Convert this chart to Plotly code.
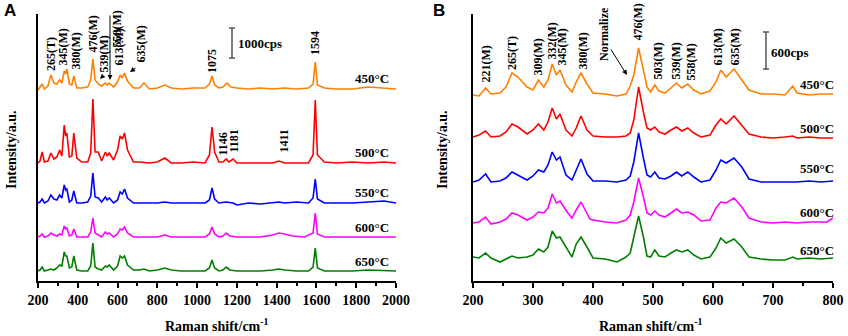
import plotly.graph_objects as go

# ---------------- Data ----------------
# Panel A: Raman shift (cm-1), stacked intensity (display units)
A_450 = [(200,190),(210,193),(221,196),(232,191),(250,194),(265,205),(280,197),(295,196),(309,200),(320,197),(332,209),(339,206),(345,211),(358,196),(370,195),(380,204),(395,192),(420,192),(450,193),(465,200),(476,221),(487,200),(503,196),(520,194),(539,197),(548,195),(558,197),(580,193),(600,198),(613,205),(624,202),(635,207),(650,199),(680,192),(710,192),(733,197),(760,191),(800,192),(838,195),(870,192),(920,191),(980,192),(1040,192),(1062,196),(1075,204),(1088,195),(1110,192),(1130,193),(1150,197),(1170,193),(1200,192),(1260,191),(1320,192),(1380,191),(1440,192),(1500,191),(1560,192),(1583,196),(1594,218),(1605,195),(1640,192),(1700,191),(1780,191),(1860,193),(1940,192),(2000,191)]
A_500 = [(200,117),(210,119),(221,128),(232,118),(250,119),(265,127),(280,121),(295,123),(309,130),(320,124),(332,155),(339,144),(345,147),(358,123),(370,124),(380,147),(395,122),(420,118),(450,118),(465,127),(476,181),(487,128),(503,128),(520,119),(539,128),(548,124),(558,127),(580,120),(600,130),(613,144),(624,141),(635,147),(650,130),(680,118),(710,118),(760,117),(800,118),(838,122),(870,117),(920,117),(980,118),(1040,117),(1062,125),(1075,153),(1088,128),(1110,118),(1130,118),(1146,121),(1160,118),(1181,121),(1200,117),(1260,117),(1320,117),(1380,117),(1411,119),(1440,117),(1500,117),(1560,117),(1583,125),(1594,180),(1605,125),(1640,118),(1700,117),(1780,118),(1860,117),(1940,118),(2000,117)]
A_550 = [(200,77),(210,78),(221,81),(232,77),(250,79),(265,85),(280,81),(295,80),(309,85),(320,82),(332,95),(339,90),(345,91),(358,78),(370,80),(380,89),(395,77),(420,77),(450,78),(465,84),(476,107),(487,83),(503,82),(520,78),(539,83),(548,80),(558,82),(580,77),(600,80),(613,88),(624,86),(635,91),(650,82),(680,77),(710,77),(760,77),(800,77),(838,78),(870,77),(920,77),(980,77),(1040,77),(1062,80),(1075,92),(1088,81),(1110,77),(1146,78),(1181,77),(1200,75),(1260,77),(1320,76),(1380,77),(1411,78),(1440,77),(1500,78),(1560,77),(1583,82),(1594,101),(1605,81),(1640,77),(1700,77),(1780,77),(1860,78),(1940,79),(2000,77)]
A_600 = [(200,43),(210,44),(221,46),(232,43),(250,44),(265,47),(280,45),(295,44),(309,46),(320,45),(332,54),(339,51),(345,52),(358,44),(370,45),(380,51),(395,43),(420,43),(450,43),(465,48),(476,62),(487,47),(503,45),(520,43),(539,48),(548,46),(558,47),(580,43),(600,46),(613,51),(624,50),(635,53),(650,47),(680,43),(710,43),(760,43),(800,43),(838,45),(870,43),(920,43),(980,43),(1040,43),(1062,46),(1075,53),(1088,46),(1110,43),(1130,44),(1146,47),(1165,44),(1200,43),(1260,43),(1320,43),(1380,45),(1411,47),(1440,46),(1480,44),(1540,43),(1583,47),(1594,67),(1605,46),(1640,43),(1700,43),(1780,43),(1860,43),(1940,43),(2000,43)]
A_650 = [(200,9),(210,10),(221,13),(232,9),(250,10),(265,11),(280,10),(295,12),(309,15),(320,14),(332,28),(339,24),(345,24),(358,12),(370,13),(380,24),(395,10),(420,9),(450,9),(465,14),(476,37),(487,13),(503,11),(520,10),(539,14),(548,13),(558,15),(580,10),(600,14),(613,24),(624,22),(635,24),(650,15),(680,10),(710,10),(733,11),(760,9),(800,10),(838,12),(870,10),(920,9),(980,9),(1040,9),(1062,12),(1075,20),(1088,12),(1110,9),(1130,10),(1146,13),(1165,10),(1200,9),(1260,9),(1320,9),(1380,10),(1411,11),(1440,10),(1500,9),(1560,9),(1583,13),(1594,32),(1605,12),(1640,9),(1700,9),(1780,9),(1860,10),(1940,9),(2000,9)]

# Panel B (200-800 cm-1)
B_450 = [(200,185),(210,184),(221,192),(230,186),(245,187),(255,193),(265,207),(275,203),(290,193),(300,190),(309,200),(318,193),(325,200),(332,216),(339,205),(345,210),(355,195),(365,188),(372,198),(380,207),(390,196),(400,187),(420,186),(440,184),(455,186),(462,194),(468,205),(476,232),(484,210),(490,193),(496,188),(503,195),(510,189),(520,187),(530,192),(539,197),(548,192),(558,196),(568,190),(580,186),(595,189),(605,198),(613,210),(622,203),(635,211),(648,200),(660,190),(680,186),(700,186),(720,185),(733,194),(740,187),(760,185),(780,186),(800,186)]
B_500 = [(200,143),(210,145),(221,149),(230,143),(245,144),(255,148),(265,156),(275,153),(290,146),(300,150),(309,156),(318,150),(325,158),(332,172),(339,161),(345,166),(355,150),(365,144),(372,152),(380,164),(390,150),(400,144),(420,143),(440,143),(455,144),(462,147),(468,160),(476,193),(484,168),(490,152),(496,150),(503,153),(510,148),(520,146),(530,150),(539,153),(548,149),(558,152),(568,147),(580,143),(595,145),(605,155),(613,161),(622,156),(635,164),(648,155),(660,146),(680,143),(700,142),(720,143),(733,144),(740,142),(760,143),(780,142),(800,142)]
B_550 = [(200,98),(210,100),(221,106),(230,98),(245,99),(255,102),(265,108),(275,105),(290,100),(300,104),(309,110),(318,108),(325,115),(332,128),(339,120),(345,123),(355,105),(365,100),(372,110),(380,121),(390,106),(400,99),(420,99),(440,98),(455,100),(462,104),(468,118),(476,147),(484,122),(490,105),(496,103),(503,108),(510,102),(520,101),(530,104),(539,108),(548,104),(558,108),(568,103),(580,98),(595,100),(605,110),(613,120),(622,117),(635,122),(648,113),(660,101),(680,98),(700,98),(720,98),(733,98),(740,98),(760,99),(780,98),(800,99)]
B_600 = [(200,57),(210,58),(221,63),(230,56),(245,58),(255,61),(265,67),(275,65),(290,60),(300,63),(309,68),(318,67),(325,72),(332,86),(339,77),(345,79),(358,67),(365,62),(372,70),(380,78),(395,61),(400,60),(420,58),(440,57),(455,60),(462,65),(468,78),(476,102),(484,83),(490,67),(496,65),(503,69),(510,65),(520,63),(530,67),(539,71),(548,67),(558,68),(568,65),(580,59),(595,60),(605,72),(613,78),(622,77),(635,82),(648,73),(660,62),(680,58),(700,57),(720,58),(740,57),(760,58),(790,58),(800,62)]
B_650 = [(200,23),(210,22),(221,27),(230,22),(245,18),(255,21),(265,24),(275,22),(290,23),(300,25),(309,31),(318,28),(325,33),(332,49),(339,42),(345,43),(355,33),(365,23),(372,36),(380,43),(390,33),(400,22),(420,21),(440,18),(455,23),(462,27),(468,43),(476,64),(484,43),(490,24),(496,23),(503,30),(510,24),(520,23),(530,27),(539,30),(548,28),(558,30),(568,25),(580,21),(595,23),(605,32),(613,42),(622,37),(635,41),(648,33),(660,23),(680,21),(700,20),(720,20),(733,23),(740,21),(760,22),(780,21),(800,22)]

TEMPS = ["450°C", "500°C", "550°C", "600°C", "650°C"]
COLORS = ["#FF8000", "#FF0000", "#0000FF", "#FF00FF", "#007F00"]
A_TICKS = [200, 400, 600, 800, 1000, 1200, 1400, 1600, 1800, 2000]
B_TICKS = [200, 300, 400, 500, 600, 700, 800]
A_PEAKS = ["265(T)", "345(M)", "380(M)", "476(M)", "539(M)", "558(M)", "613(M)", "635(M)", "1075", "1594", "1146", "1181", "1411"]
B_PEAKS = ["221(M)", "265(T)", "309(M)", "332(M)", "345(M)", "380(M)", "476(M)", "503(M)", "539(M)", "558(M)", "613(M)", "635(M)"]

# ---------------- Figure ----------------
W, H = 848, 336
def PX(x): return x / W
def PY(y): return 1 - y / H

fig = go.Figure()
for spec, col in zip([A_450, A_500, A_550, A_600, A_650], COLORS):
    fig.add_trace(go.Scatter(x=[p[0] for p in spec], y=[p[1] for p in spec], mode="lines",
                             line=dict(color=col, width=1.6), xaxis="x", yaxis="y", showlegend=False))
for spec, col in zip([B_450, B_500, B_550, B_600, B_650], COLORS):
    fig.add_trace(go.Scatter(x=[p[0] for p in spec], y=[p[1] for p in spec], mode="lines",
                             line=dict(color=col, width=1.6), xaxis="x2", yaxis="y2", showlegend=False))

SERIF = "Liberation Serif, Times New Roman, serif"
tickfont = dict(family=SERIF, size=14, color="black", weight="bold")
ydom = [PY(281), PY(14)]
common_x = dict(showline=True, linecolor="black", linewidth=2, ticks="outside", ticklen=5,
                tickwidth=1.5, tickcolor="black", showgrid=False, zeroline=False, tickfont=tickfont,
                automargin=False)
common_y = dict(showline=True, linecolor="black", linewidth=2, showticklabels=False, ticks="",
                showgrid=False, zeroline=False, range=[-1, 266], domain=ydom, automargin=False)

fig.update_layout(
    width=W, height=H, margin=dict(l=0, r=0, t=0, b=0, autoexpand=False),
    paper_bgcolor="white", plot_bgcolor="white",
    xaxis=dict(common_x, domain=[PX(38), PX(396)], range=[200, 2000], tickvals=A_TICKS,
               minor=dict(ticks="outside", ticklen=3, tickwidth=1.5, tickcolor="black", dtick=100)),
    yaxis=dict(common_y, anchor="x"),
    xaxis2=dict(common_x, domain=[PX(473), PX(833)], range=[200, 800], tickvals=B_TICKS, anchor="y2",
                minor=dict(ticks="outside", ticklen=3, tickwidth=1.5, tickcolor="black", dtick=50)),
    yaxis2=dict(common_y, anchor="x2"),
)

ann = []
def text(px, py, s, size=13, xanchor="center", yanchor="middle", angle=0, fam=SERIF, weight="bold"):
    ann.append(dict(x=PX(px), y=PY(py), xref="paper", yref="paper", text=s, showarrow=False,
                    xanchor=xanchor, yanchor=yanchor, textangle=angle,
                    font=dict(family=fam, size=size, color="black", weight=weight)))

# panel letters
text(10, 11, "A", size=17, fam="Liberation Sans, Arial, sans-serif")
text(439, 11, "B", size=17, fam="Liberation Sans, Arial, sans-serif")
# axis titles
text(11, 150, "Intensity/a.u.", size=14, angle=-90)
text(442, 150, "Intensity/a.u.", size=14, angle=-90)
text(217, 325, "Raman shift/cm<sup>-1</sup>", size=14)
text(651, 325, "Raman shift/cm<sup>-1</sup>", size=14)
# temperature labels
for t, y in zip(TEMPS, [78, 153, 192, 227, 261]):
    text(391, y, t, size=13, xanchor="right")
for t, y in zip(TEMPS, [84, 128, 168, 212, 250]):
    text(836, y, t, size=13, xanchor="right")
# peak labels panel A (center x, bottom y in pixels)
A_POS = [(51,73),(63,68),(75,72),(93,55),(103,75),(116,50),(119,68),(140,65),(212,75),(315,57),(222,158),(233,155),(283,155)]
for s, (x, y) in zip(A_PEAKS, A_POS):
    text(x, y, s, size=12, yanchor="bottom", angle=-90)
B_POS = [(485,85),(512,72),(537,78),(551,62),(562,68),(582,72),(637,43),(657,82),(675,82),(690,83),(718,68),(735,68)]
for s, (x, y) in zip(B_PEAKS, B_POS):
    text(x, y, s, size=12, yanchor="bottom", angle=-90)
text(604, 63, "Normalize", size=12, yanchor="bottom", angle=-90)
# scale bar labels
text(236, 43, "1000cps", size=13, xanchor="left")
text(769, 52, "600cps", size=13, xanchor="left")

# arrows
def arrow(hx, hy, tx, ty):
    ann.append(dict(x=PX(hx), y=PY(hy), xref="paper", yref="paper", text="", showarrow=True,
                    ax=tx - hx, ay=ty - hy, arrowhead=2, arrowsize=1, arrowwidth=1, arrowcolor="black"))
arrow(110, 80, 110, 14)
arrow(100, 79, 104, 75)
arrow(130, 72, 137, 67)
arrow(627, 75, 610, 48)
fig.update_layout(annotations=ann)

# scale bars
shapes = []
def bar(x, y0, y1):
    for a in [(x, y0, x, y1), (x - 3, y0, x + 3, y0), (x - 3, y1, x + 3, y1)]:
        shapes.append(dict(type="line", xref="paper", yref="paper", x0=PX(a[0]), y0=PY(a[1]),
                           x1=PX(a[2]), y1=PY(a[3]), line=dict(color="#555555", width=1.5)))
bar(232, 28, 58)
bar(766, 32, 69)
fig.update_layout(shapes=shapes)

fig.write_html("out.html", config={"displayModeBar": False},
               post_script="document.body.style.margin='0';document.body.style.overflow='hidden';")
